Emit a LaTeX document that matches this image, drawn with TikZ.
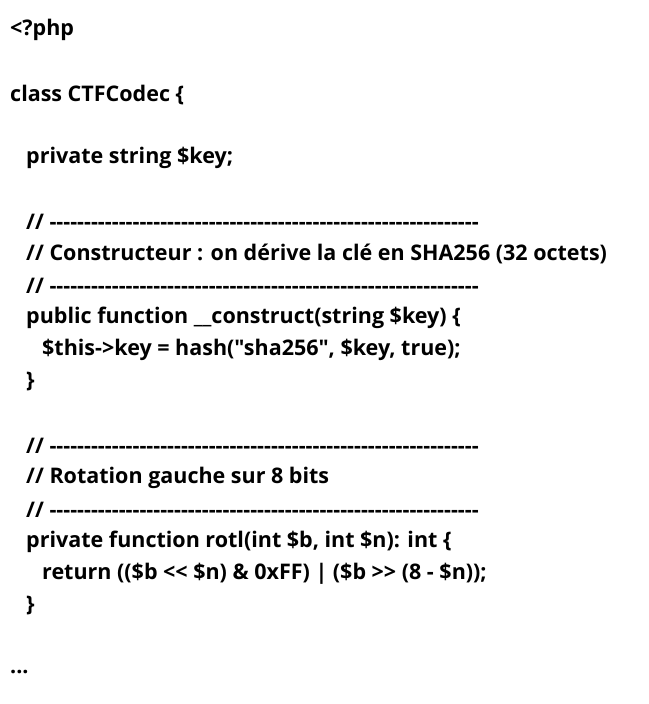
\documentclass[tikz,border=0pt]{standalone}
\usepackage{fontspec}
\setmainfont{Open Sans}[Ligatures=TeXOff]
\newcommand{\rulerline}{// --------------------------------------------------------------}
\begin{document}
\begin{tikzpicture}[x=1pt,y=-1pt,
    codeline/.style={anchor=west,inner sep=0pt,font=\bfseries\fontsize{21.5}{26}\selectfont}]
    % frame
    \useasboundingbox (0,0) rectangle (648,704);
    % lines
    \node (l1) at (10,30) [codeline] {<?php};
    \node (l2) at (10,95) [codeline] {class CTFCodec \{};
    \node (l3) at (26,158) [codeline] {private string \$key;};
    \node (l4) at (26,222) [codeline] {\rulerline};
    \node (l5) at (26,254) [codeline] {// Constructeur : on dérive la clé en SHA256 (32 octets)};
    \node (l6) at (26,286) [codeline] {\rulerline};
    \node (l7) at (26,318) [codeline] {public function \_\_construct(string \$key) \{};
    \node (l8) at (42,350) [codeline] {\$this->key = hash("sha256", \$key, true);};
    \node (l9) at (26,382) [codeline] {\}};
    \node (l10) at (26,446) [codeline] {\rulerline};
    \node (l11) at (26,478) [codeline] {// Rotation gauche sur 8 bits};
    \node (l12) at (26,510) [codeline] {\rulerline};
    \node (l13) at (26,542) [codeline] {private function rotl(int \$b, int \$n): int \{};
    \node (l14) at (42,574) [codeline] {return ((\$b << \$n) \& 0xFF) | (\$b >> (8 - \$n));};
    \node (l15) at (26,606) [codeline] {\}};
    \node (l16) at (10,672) [codeline] {...};
\end{tikzpicture}
\end{document}
